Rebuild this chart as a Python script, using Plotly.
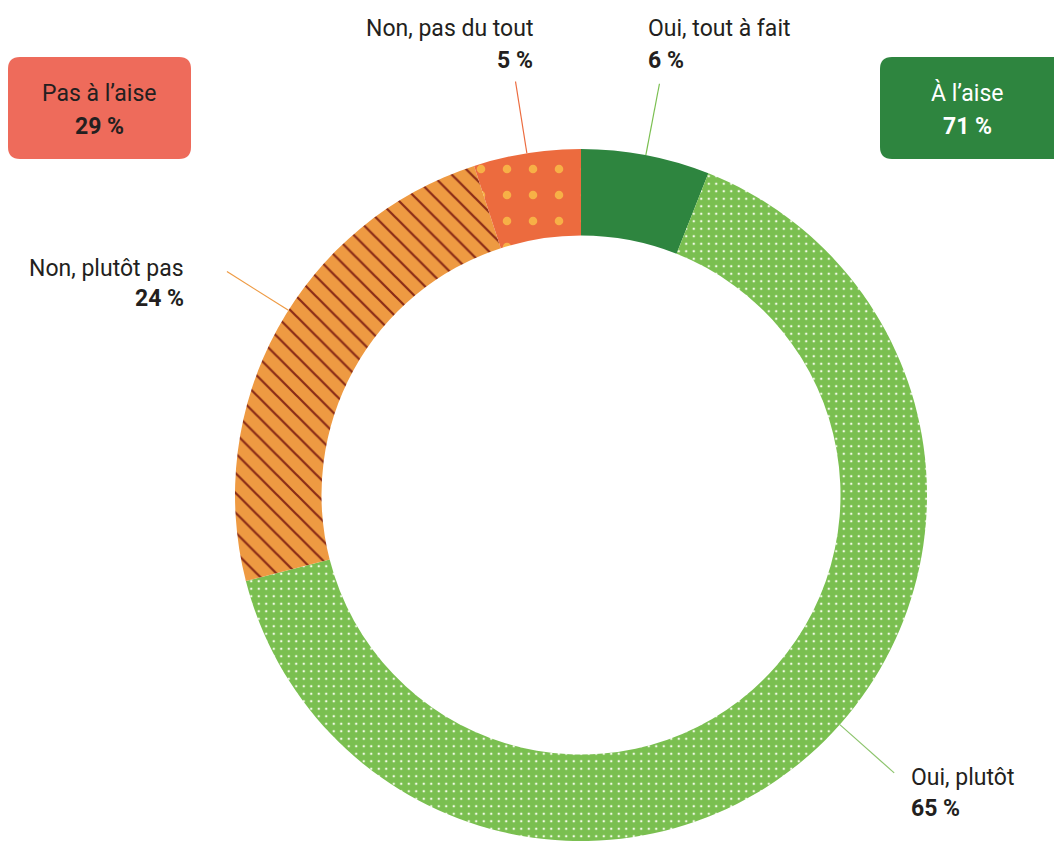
import math
import plotly.graph_objects as go

# Survey answers, clockwise from 12 o'clock
categories = ["Oui, tout à fait", "Oui, plutôt", "Non, plutôt pas", "Non, pas du tout"]
values = [6, 65, 24, 5]
groups = ["À l’aise", "Pas à l’aise"]  # first two answers / last two answers

W, H = 1054, 841
CX, CY, R = 581, 495, 346  # donut centre and outer radius in pixels
HOLE = 0.75

slice_colors = ["#2e853f", "#7abf50", "#ee9a42", "#ec6b3e"]
pattern_shapes = ["", ".", "\\", "."]
pattern_fg = ["#2e853f", "#f2fae6", "#8a2b16", "#f7b046"]
pattern_size = [8, 7.5, 14, 26]
pattern_solidity = [0.0, 0.085, 0.16, 0.085]
leader_colors = ["#7abf50", "#8cc46c", "#ee9a42", "#ec6b3e"]
leader_frac = [0.5, 0.47, 0.54, 0.5]  # where along each slice the leader leaves the ring
TEXT = "#231f20"
FONT = "Roboto"
FONT_SIZE = 23


def px(x):
    return x / W


def py(y):
    return 1 - y / H


fig = go.Figure()
fig.add_trace(go.Pie(
    labels=categories,
    values=values,
    sort=False,
    direction="clockwise",
    rotation=0,
    hole=HOLE,
    textinfo="none",
    hoverinfo="label+percent",
    showlegend=False,
    marker=dict(
        colors=slice_colors,
        line=dict(width=0),
        pattern=dict(
            shape=pattern_shapes,
            fgcolor=pattern_fg,
            bgcolor=slice_colors,
            fgopacity=1,
            size=pattern_size,
            solidity=pattern_solidity,
            fillmode="replace",
        ),
    ),
    domain=dict(x=[px(CX - R), px(CX + R)], y=[py(CY + R), py(CY - R)]),
))

# Leader lines: radial segments from the ring's outer edge
total = sum(values)
shapes = []
cum = 0
for v, col, f in zip(values, leader_colors, leader_frac):
    ang = math.radians((cum + v * f) / total * 360)
    cum += v
    r0, r1 = R, R * 1.21
    x0, y0 = CX + r0 * math.sin(ang), CY - r0 * math.cos(ang)
    x1, y1 = CX + r1 * math.sin(ang), CY - r1 * math.cos(ang)
    shapes.append(dict(type="line", xref="paper", yref="paper",
                       x0=px(x0), y0=py(y0), x1=px(x1), y1=py(y1),
                       line=dict(color=col, width=1.2)))


def rounded_box(x0, y0, x1, y1, r, color):
    path = (f"M {px(x0 + r)},{py(y0)} L {px(x1 - r)},{py(y0)} "
            f"Q {px(x1)},{py(y0)} {px(x1)},{py(y0 + r)} "
            f"L {px(x1)},{py(y1 - r)} Q {px(x1)},{py(y1)} {px(x1 - r)},{py(y1)} "
            f"L {px(x0 + r)},{py(y1)} Q {px(x0)},{py(y1)} {px(x0)},{py(y1 - r)} "
            f"L {px(x0)},{py(y0 + r)} Q {px(x0)},{py(y0)} {px(x0 + r)},{py(y0)} Z")
    return dict(type="path", xref="paper", yref="paper", path=path,
                fillcolor=color, line=dict(width=0), layer="below")


shapes.append(rounded_box(8, 57, 191, 159, 12, "#ee6b5b"))
shapes.append(rounded_box(880, 57, 1070, 159, 12, "#2e853f"))

annotations = []


def label(x, y, text, anchor, bold=False, color=TEXT, size=FONT_SIZE):
    annotations.append(dict(
        x=px(x), y=py(y), xref="paper", yref="paper",
        text=f"<b>{text}</b>" if bold else text,
        showarrow=False, xanchor=anchor, yanchor="middle",
        font=dict(family=FONT, size=size, color=color),
    ))


pct = [f"{v} %" for v in values]
# Slice labels (name on first line, value in bold below)
label(646, 28, categories[0], "left")
label(646, 60, pct[0], "left", bold=True)
label(535, 28, categories[3], "right")
label(535, 60, pct[3], "right", bold=True)
label(186, 268, categories[2], "right")
label(186, 299, pct[2], "right", bold=True)
label(909, 777, categories[1], "left")
label(909, 808, pct[1], "left", bold=True)

# Group totals in the corner boxes
ok_total = values[0] + values[1]
not_ok_total = values[2] + values[3]
label(99, 93, groups[1], "center")
label(99, 126, f"{not_ok_total} %", "center", bold=True)
label(967, 93, groups[0], "center", color="white")
label(967, 126, f"{ok_total} %", "center", bold=True, color="white")

fig.update_layout(
    width=W, height=H,
    margin=dict(l=0, r=0, t=0, b=0),
    paper_bgcolor="white",
    plot_bgcolor="white",
    shapes=shapes,
    annotations=annotations,
)

fig.write_html("out.html")
